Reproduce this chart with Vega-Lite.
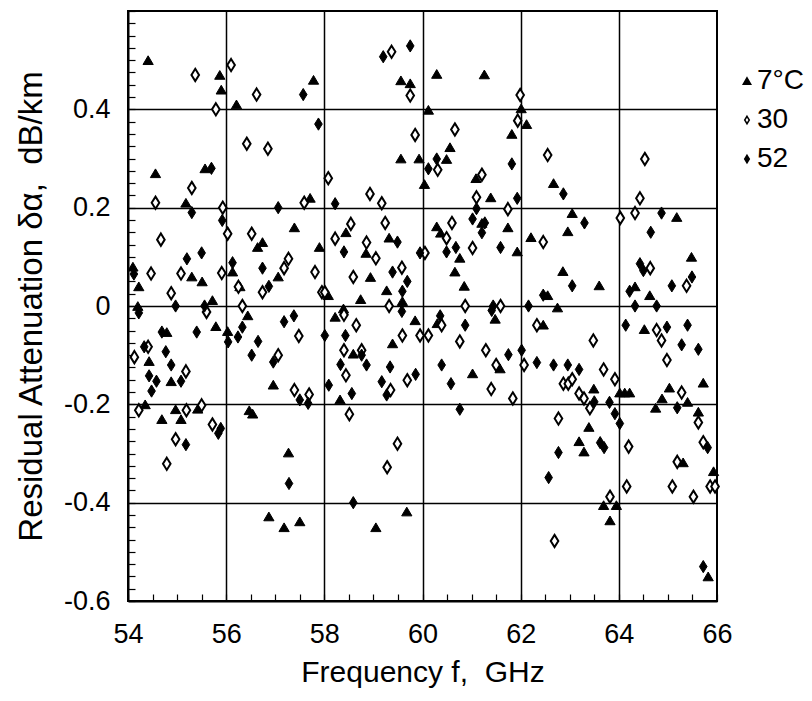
{
  "$schema": "https://vega.github.io/schema/vega-lite/v6.json",
  "autosize": "none",
  "width": 589,
  "height": 590,
  "padding": {"left": 128, "top": 11, "right": 95, "bottom": 100},
  "background": "white",
  "config": {"font": "Liberation Sans", "view": {"stroke": "black", "strokeWidth": 2}},
  "datasets": {
    "pts": [
      {"f":54.41,"a":0.50,"t":"7°C"},{"f":55.87,"a":0.47,"t":"7°C"},{"f":55.90,"a":0.44,"t":"7°C"},{"f":56.21,"a":0.41,"t":"7°C"},{"f":57.78,"a":0.46,"t":"7°C"},
      {"f":54.56,"a":0.27,"t":"7°C"},{"f":55.57,"a":0.28,"t":"7°C"},{"f":57.71,"a":0.22,"t":"7°C"},{"f":55.18,"a":0.21,"t":"7°C"},{"f":57.39,"a":0.16,"t":"7°C"},
      {"f":56.74,"a":0.13,"t":"7°C"},{"f":56.64,"a":0.12,"t":"7°C"},{"f":57.90,"a":0.12,"t":"7°C"},{"f":55.30,"a":0.06,"t":"7°C"},{"f":55.51,"a":0.05,"t":"7°C"},
      {"f":56.13,"a":0.07,"t":"7°C"},{"f":56.28,"a":0.04,"t":"7°C"},{"f":57.06,"a":0.06,"t":"7°C"},{"f":54.22,"a":0.04,"t":"7°C"},{"f":54.10,"a":0.08,"t":"7°C"},
      {"f":55.72,"a":0.012,"t":"7°C"},{"f":54.20,"a":0.0,"t":"7°C"},
      {"f":54.79,"a":-0.053,"t":"7°C"},{"f":54.43,"a":-0.112,"t":"7°C"},{"f":54.88,"a":-0.153,"t":"7°C"},{"f":54.35,"a":-0.20,"t":"7°C"},{"f":54.69,"a":-0.23,"t":"7°C"},
      {"f":54.97,"a":-0.21,"t":"7°C"},{"f":55.08,"a":-0.23,"t":"7°C"},{"f":55.42,"a":-0.209,"t":"7°C"},{"f":55.79,"a":-0.041,"t":"7°C"},{"f":56.03,"a":-0.051,"t":"7°C"},
      {"f":56.44,"a":-0.019,"t":"7°C"},{"f":56.47,"a":-0.212,"t":"7°C"},{"f":56.54,"a":-0.219,"t":"7°C"},{"f":56.96,"a":-0.16,"t":"7°C"},{"f":57.27,"a":-0.298,"t":"7°C"},
      {"f":56.87,"a":-0.428,"t":"7°C"},{"f":57.18,"a":-0.45,"t":"7°C"},{"f":57.50,"a":-0.438,"t":"7°C"},
      {"f":59.56,"a":0.459,"t":"7°C"},{"f":59.75,"a":0.453,"t":"7°C"},{"f":60.29,"a":0.472,"t":"7°C"},{"f":61.26,"a":0.471,"t":"7°C"},{"f":60.12,"a":0.399,"t":"7°C"},
      {"f":62.01,"a":0.402,"t":"7°C"},{"f":61.82,"a":0.35,"t":"7°C"},{"f":60.56,"a":0.323,"t":"7°C"},{"f":59.56,"a":0.30,"t":"7°C"},{"f":59.93,"a":0.30,"t":"7°C"},
      {"f":60.49,"a":0.299,"t":"7°C"},{"f":60.04,"a":0.248,"t":"7°C"},{"f":61.09,"a":0.26,"t":"7°C"},{"f":61.39,"a":0.221,"t":"7°C"},{"f":61.21,"a":0.169,"t":"7°C"},
      {"f":61.74,"a":0.16,"t":"7°C"},{"f":58.44,"a":0.15,"t":"7°C"},{"f":59.32,"a":0.139,"t":"7°C"},{"f":60.29,"a":0.162,"t":"7°C"},{"f":60.37,"a":0.149,"t":"7°C"},
      {"f":58.85,"a":0.108,"t":"7°C"},{"f":60.76,"a":0.098,"t":"7°C"},{"f":61.93,"a":0.111,"t":"7°C"},{"f":58.94,"a":0.059,"t":"7°C"},{"f":60.66,"a":0.07,"t":"7°C"},
      {"f":60.85,"a":0.041,"t":"7°C"},{"f":59.27,"a":0.032,"t":"7°C"},{"f":58.74,"a":0.014,"t":"7°C"},{"f":58.08,"a":0.022,"t":"7°C"},{"f":58.39,"a":-0.005,"t":"7°C"},
      {"f":59.59,"a":0.01,"t":"7°C"},
      {"f":58.22,"a":-0.022,"t":"7°C"},{"f":59.85,"a":-0.029,"t":"7°C"},{"f":59.39,"a":-0.076,"t":"7°C"},{"f":58.59,"a":-0.097,"t":"7°C"},{"f":61.02,"a":-0.137,"t":"7°C"},
      {"f":61.58,"a":-0.127,"t":"7°C"},{"f":61.48,"a":-0.026,"t":"7°C"},{"f":58.32,"a":-0.19,"t":"7°C"},{"f":59.68,"a":-0.418,"t":"7°C"},{"f":59.05,"a":-0.45,"t":"7°C"},
      {"f":60.30,"a":-0.035,"t":"7°C"},
      {"f":62.12,"a":0.37,"t":"7°C"},{"f":62.67,"a":0.25,"t":"7°C"},{"f":63.05,"a":0.189,"t":"7°C"},{"f":62.96,"a":0.152,"t":"7°C"},{"f":62.21,"a":0.14,"t":"7°C"},
      {"f":62.86,"a":0.071,"t":"7°C"},{"f":63.60,"a":0.042,"t":"7°C"},{"f":62.55,"a":0.022,"t":"7°C"},{"f":62.75,"a":-0.003,"t":"7°C"},{"f":65.18,"a":0.181,"t":"7°C"},
      {"f":65.48,"a":0.10,"t":"7°C"},{"f":64.33,"a":0.04,"t":"7°C"},{"f":64.63,"a":0.022,"t":"7°C"},
      {"f":62.46,"a":-0.038,"t":"7°C"},{"f":63.49,"a":-0.168,"t":"7°C"},{"f":64.02,"a":-0.176,"t":"7°C"},{"f":64.12,"a":-0.176,"t":"7°C"},{"f":64.22,"a":-0.176,"t":"7°C"},
      {"f":63.39,"a":-0.246,"t":"7°C"},{"f":63.19,"a":-0.275,"t":"7°C"},{"f":63.29,"a":-0.296,"t":"7°C"},{"f":63.69,"a":-0.405,"t":"7°C"},{"f":63.95,"a":-0.405,"t":"7°C"},
      {"f":63.82,"a":-0.436,"t":"7°C"},{"f":64.52,"a":-0.047,"t":"7°C"},{"f":65.03,"a":-0.166,"t":"7°C"},{"f":64.88,"a":-0.188,"t":"7°C"},{"f":64.75,"a":-0.207,"t":"7°C"},
      {"f":65.40,"a":-0.195,"t":"7°C"},{"f":65.62,"a":-0.215,"t":"7°C"},{"f":65.72,"a":-0.156,"t":"7°C"},{"f":65.31,"a":-0.318,"t":"7°C"},{"f":65.93,"a":-0.336,"t":"7°C"},
      {"f":65.82,"a":-0.55,"t":"7°C"},

      {"f":55.37,"a":0.47,"t":"30"},{"f":56.10,"a":0.49,"t":"30"},{"f":56.62,"a":0.43,"t":"30"},{"f":55.79,"a":0.40,"t":"30"},{"f":56.42,"a":0.33,"t":"30"},
      {"f":56.85,"a":0.32,"t":"30"},{"f":54.56,"a":0.21,"t":"30"},{"f":55.30,"a":0.24,"t":"30"},{"f":55.93,"a":0.20,"t":"30"},{"f":57.59,"a":0.21,"t":"30"},
      {"f":58.08,"a":0.26,"t":"30"},{"f":54.67,"a":0.135,"t":"30"},{"f":56.03,"a":0.147,"t":"30"},{"f":56.52,"a":0.147,"t":"30"},{"f":57.27,"a":0.096,"t":"30"},
      {"f":57.18,"a":0.077,"t":"30"},{"f":57.81,"a":0.069,"t":"30"},{"f":54.47,"a":0.066,"t":"30"},{"f":55.08,"a":0.066,"t":"30"},{"f":55.91,"a":0.067,"t":"30"},
      {"f":54.88,"a":0.026,"t":"30"},{"f":56.25,"a":0.039,"t":"30"},{"f":56.74,"a":0.028,"t":"30"},{"f":57.95,"a":0.028,"t":"30"},{"f":58.01,"a":0.028,"t":"30"},
      {"f":56.33,"a":0.0,"t":"30"},
      {"f":55.60,"a":-0.012,"t":"30"},{"f":54.41,"a":-0.083,"t":"30"},{"f":54.13,"a":-0.104,"t":"30"},{"f":55.18,"a":-0.133,"t":"30"},{"f":54.22,"a":-0.212,"t":"30"},
      {"f":55.19,"a":-0.212,"t":"30"},{"f":55.50,"a":-0.202,"t":"30"},{"f":55.72,"a":-0.241,"t":"30"},{"f":54.97,"a":-0.271,"t":"30"},{"f":54.79,"a":-0.321,"t":"30"},
      {"f":57.06,"a":-0.10,"t":"30"},{"f":57.48,"a":-0.061,"t":"30"},{"f":57.39,"a":-0.171,"t":"30"},{"f":57.69,"a":-0.18,"t":"30"},
      {"f":59.37,"a":0.517,"t":"30"},{"f":59.75,"a":0.428,"t":"30"},{"f":61.99,"a":0.429,"t":"30"},{"f":61.94,"a":0.377,"t":"30"},{"f":59.85,"a":0.348,"t":"30"},
      {"f":60.66,"a":0.359,"t":"30"},{"f":60.31,"a":0.277,"t":"30"},{"f":61.21,"a":0.267,"t":"30"},{"f":58.93,"a":0.228,"t":"30"},{"f":59.17,"a":0.209,"t":"30"},
      {"f":61.10,"a":0.221,"t":"30"},{"f":58.54,"a":0.167,"t":"30"},{"f":59.24,"a":0.169,"t":"30"},{"f":60.60,"a":0.169,"t":"30"},{"f":61.74,"a":0.197,"t":"30"},
      {"f":58.22,"a":0.137,"t":"30"},{"f":58.86,"a":0.129,"t":"30"},{"f":59.05,"a":0.097,"t":"30"},{"f":60.49,"a":0.138,"t":"30"},{"f":61.02,"a":0.118,"t":"30"},
      {"f":60.05,"a":0.108,"t":"30"},{"f":59.58,"a":0.078,"t":"30"},{"f":58.59,"a":0.059,"t":"30"},{"f":59.32,"a":0.0,"t":"30"},{"f":60.87,"a":0.0,"t":"30"},
      {"f":61.59,"a":0.0,"t":"30"},
      {"f":58.40,"a":-0.018,"t":"30"},{"f":58.65,"a":-0.039,"t":"30"},{"f":58.40,"a":-0.09,"t":"30"},{"f":58.76,"a":-0.09,"t":"30"},{"f":58.44,"a":-0.141,"t":"30"},
      {"f":59.59,"a":-0.06,"t":"30"},{"f":59.95,"a":-0.06,"t":"30"},{"f":60.12,"a":-0.06,"t":"30"},{"f":60.39,"a":-0.039,"t":"30"},{"f":60.76,"a":-0.072,"t":"30"},
      {"f":61.29,"a":-0.09,"t":"30"},{"f":61.50,"a":-0.12,"t":"30"},{"f":59.69,"a":-0.151,"t":"30"},{"f":59.35,"a":-0.171,"t":"30"},{"f":61.40,"a":-0.169,"t":"30"},
      {"f":61.84,"a":-0.188,"t":"30"},{"f":62.07,"a":-0.12,"t":"30"},{"f":58.51,"a":-0.22,"t":"30"},{"f":59.49,"a":-0.28,"t":"30"},{"f":59.28,"a":-0.328,"t":"30"},
      {"f":62.55,"a":0.307,"t":"30"},{"f":64.53,"a":0.299,"t":"30"},{"f":64.43,"a":0.219,"t":"30"},{"f":64.33,"a":0.189,"t":"30"},{"f":64.03,"a":0.179,"t":"30"},
      {"f":62.46,"a":0.13,"t":"30"},{"f":64.64,"a":0.077,"t":"30"},{"f":65.38,"a":0.041,"t":"30"},
      {"f":62.33,"a":-0.039,"t":"30"},{"f":63.48,"a":-0.07,"t":"30"},{"f":62.87,"a":-0.158,"t":"30"},{"f":62.97,"a":-0.158,"t":"30"},{"f":63.05,"a":-0.149,"t":"30"},
      {"f":63.69,"a":-0.129,"t":"30"},{"f":63.92,"a":-0.149,"t":"30"},{"f":63.19,"a":-0.178,"t":"30"},{"f":63.29,"a":-0.188,"t":"30"},{"f":63.41,"a":-0.208,"t":"30"},
      {"f":62.77,"a":-0.229,"t":"30"},{"f":64.20,"a":-0.286,"t":"30"},{"f":63.82,"a":-0.388,"t":"30"},{"f":62.69,"a":-0.478,"t":"30"},{"f":64.77,"a":-0.049,"t":"30"},
      {"f":64.87,"a":-0.07,"t":"30"},{"f":64.98,"a":-0.11,"t":"30"},{"f":65.28,"a":-0.176,"t":"30"},{"f":65.62,"a":-0.237,"t":"30"},{"f":65.72,"a":-0.277,"t":"30"},
      {"f":65.19,"a":-0.317,"t":"30"},{"f":64.16,"a":-0.367,"t":"30"},{"f":65.09,"a":-0.367,"t":"30"},{"f":65.52,"a":-0.388,"t":"30"},{"f":65.86,"a":-0.367,"t":"30"},
      {"f":65.96,"a":-0.367,"t":"30"},

      {"f":57.57,"a":0.43,"t":"52"},{"f":57.88,"a":0.37,"t":"52"},{"f":55.70,"a":0.28,"t":"52"},{"f":55.30,"a":0.19,"t":"52"},{"f":57.06,"a":0.20,"t":"52"},
      {"f":55.92,"a":0.174,"t":"52"},{"f":55.50,"a":0.108,"t":"52"},{"f":55.20,"a":0.096,"t":"52"},{"f":56.13,"a":0.088,"t":"52"},{"f":56.74,"a":0.077,"t":"52"},
      {"f":56.87,"a":0.04,"t":"52"},{"f":54.12,"a":0.065,"t":"52"},{"f":54.97,"a":0.0,"t":"52"},{"f":55.56,"a":0.0,"t":"52"},
      {"f":54.22,"a":-0.014,"t":"52"},{"f":54.69,"a":-0.053,"t":"52"},{"f":55.40,"a":-0.053,"t":"52"},{"f":54.77,"a":-0.093,"t":"52"},{"f":54.88,"a":-0.12,"t":"52"},
      {"f":54.43,"a":-0.142,"t":"52"},{"f":54.58,"a":-0.153,"t":"52"},{"f":55.08,"a":-0.153,"t":"52"},{"f":54.48,"a":-0.173,"t":"52"},{"f":56.04,"a":-0.073,"t":"52"},
      {"f":56.24,"a":-0.063,"t":"52"},{"f":56.33,"a":-0.043,"t":"52"},{"f":56.52,"a":-0.10,"t":"52"},{"f":56.65,"a":-0.072,"t":"52"},{"f":56.96,"a":-0.114,"t":"52"},
      {"f":57.18,"a":-0.032,"t":"52"},{"f":57.38,"a":-0.02,"t":"52"},{"f":58.01,"a":-0.06,"t":"52"},{"f":58.09,"a":-0.161,"t":"52"},{"f":55.89,"a":-0.249,"t":"52"},
      {"f":55.84,"a":-0.259,"t":"52"},{"f":55.18,"a":-0.282,"t":"52"},{"f":57.28,"a":-0.361,"t":"52"},{"f":57.50,"a":-0.191,"t":"52"},{"f":57.67,"a":-0.198,"t":"52"},
      {"f":54.33,"a":-0.083,"t":"52"},
      {"f":59.20,"a":0.507,"t":"52"},{"f":59.75,"a":0.529,"t":"52"},{"f":60.29,"a":0.299,"t":"52"},{"f":60.12,"a":0.279,"t":"52"},{"f":61.82,"a":0.289,"t":"52"},
      {"f":61.93,"a":0.219,"t":"52"},{"f":58.22,"a":0.208,"t":"52"},{"f":61.10,"a":0.198,"t":"52"},{"f":61.02,"a":0.177,"t":"52"},{"f":61.27,"a":0.169,"t":"52"},
      {"f":61.21,"a":0.149,"t":"52"},{"f":61.59,"a":0.119,"t":"52"},{"f":58.40,"a":0.11,"t":"52"},{"f":59.49,"a":0.13,"t":"52"},{"f":59.95,"a":0.108,"t":"52"},
      {"f":60.49,"a":0.11,"t":"52"},{"f":60.68,"a":0.119,"t":"52"},{"f":59.39,"a":0.069,"t":"52"},{"f":59.69,"a":0.05,"t":"52"},{"f":59.59,"a":0.03,"t":"52"},
      {"f":61.44,"a":0.0,"t":"52"},
      {"f":59.58,"a":-0.011,"t":"52"},{"f":58.43,"a":-0.06,"t":"52"},{"f":58.76,"a":-0.10,"t":"52"},{"f":58.33,"a":-0.119,"t":"52"},{"f":58.86,"a":-0.12,"t":"52"},
      {"f":58.56,"a":-0.178,"t":"52"},{"f":59.34,"a":-0.124,"t":"52"},{"f":59.17,"a":-0.154,"t":"52"},{"f":59.27,"a":-0.181,"t":"52"},{"f":59.86,"a":-0.139,"t":"52"},
      {"f":60.87,"a":-0.039,"t":"52"},{"f":60.39,"a":-0.12,"t":"52"},{"f":60.58,"a":-0.158,"t":"52"},{"f":60.76,"a":-0.21,"t":"52"},{"f":61.41,"a":-0.009,"t":"52"},
      {"f":61.75,"a":-0.099,"t":"52"},{"f":62.02,"a":-0.09,"t":"52"},{"f":58.59,"a":-0.40,"t":"52"},{"f":60.36,"a":-0.02,"t":"52"},
      {"f":62.87,"a":0.228,"t":"52"},{"f":63.30,"a":0.169,"t":"52"},{"f":63.05,"a":0.041,"t":"52"},{"f":62.46,"a":0.022,"t":"52"},{"f":62.16,"a":0.0,"t":"52"},
      {"f":64.87,"a":0.189,"t":"52"},{"f":64.65,"a":0.15,"t":"52"},{"f":64.43,"a":0.086,"t":"52"},{"f":64.50,"a":0.072,"t":"52"},{"f":65.08,"a":0.041,"t":"52"},
      {"f":65.49,"a":0.059,"t":"52"},{"f":64.22,"a":0.03,"t":"52"},{"f":64.33,"a":0.0,"t":"52"},{"f":64.77,"a":0.0,"t":"52"},
      {"f":62.33,"a":-0.115,"t":"52"},{"f":62.67,"a":-0.12,"t":"52"},{"f":62.96,"a":-0.12,"t":"52"},{"f":63.19,"a":-0.129,"t":"52"},
      {"f":63.50,"a":-0.195,"t":"52"},{"f":63.81,"a":-0.196,"t":"52"},{"f":63.92,"a":-0.219,"t":"52"},{"f":64.02,"a":-0.239,"t":"52"},{"f":63.62,"a":-0.278,"t":"52"},
      {"f":63.70,"a":-0.288,"t":"52"},{"f":62.77,"a":-0.298,"t":"52"},{"f":62.57,"a":-0.349,"t":"52"},{"f":64.14,"a":-0.039,"t":"52"},{"f":64.98,"a":-0.043,"t":"52"},
      {"f":65.40,"a":-0.039,"t":"52"},{"f":65.28,"a":-0.079,"t":"52"},{"f":65.62,"a":-0.088,"t":"52"},{"f":65.19,"a":-0.207,"t":"52"},{"f":65.81,"a":-0.288,"t":"52"},
      {"f":65.72,"a":-0.53,"t":"52"}
    ]
  },
  "data": {"name": "pts"},
  "mark": {"type": "point", "filled": true, "stroke": "black", "opacity": 1},
  "encoding": {
    "x": {
      "field": "f", "type": "quantitative",
      "scale": {"domain": [54, 66], "nice": false, "zero": false},
      "axis": {
        "values": [54,54.5,55,55.5,56,56.5,57,57.5,58,58.5,59,59.5,60,60.5,61,61.5,62,62.5,63,63.5,64,64.5,65,65.5,66],
        "grid": true, "gridColor": "black", "gridWidth": 1.5,
        "gridOpacity": {"condition": {"test": "datum.value % 2 === 0 && datum.value > 54 && datum.value < 66", "value": 1}, "value": 0},
        "tickSize": -7, "tickColor": "black", "tickWidth": 1.2,
        "domainColor": "black", "domainWidth": 2,
        "labelExpr": "datum.value % 2 === 0 ? format(datum.value, 'd') : ''",
        "labelFontSize": 27, "labelColor": "black", "labelPadding": 27, "labelOverlap": false, "labelFlush": false,
        "title": "Frequency f,\u00a0\u00a0GHz", "titleFontSize": 30, "titleFontWeight": "normal", "titleColor": "black",
        "titleBaseline": "alphabetic", "titleY": 80
      }
    },
    "y": {
      "field": "a", "type": "quantitative",
      "scale": {"domain": [-0.6, 0.6], "nice": false, "zero": false},
      "axis": {
        "values": [-0.6,-0.575,-0.55,-0.525,-0.5,-0.475,-0.45,-0.425,-0.4,-0.375,-0.35,-0.325,-0.3,-0.275,-0.25,-0.225,-0.2,-0.175,-0.15,-0.125,-0.1,-0.075,-0.05,-0.025,0,0.025,0.05,0.075,0.1,0.125,0.15,0.175,0.2,0.225,0.25,0.275,0.3,0.325,0.35,0.375,0.4,0.425,0.45,0.475,0.5,0.525,0.55,0.575,0.6],
        "grid": true, "gridColor": "black", "gridWidth": 1.5,
        "gridOpacity": {"condition": {"test": "abs(datum.value*5 - round(datum.value*5)) < 1e-6 && abs(datum.value) < 0.59", "value": 1}, "value": 0},
        "tickSize": -7, "tickColor": "black", "tickWidth": 1.2,
        "domainColor": "black", "domainWidth": 2,
        "labelExpr": "abs(datum.value*5 - round(datum.value*5)) < 1e-6 && datum.value < 0.59 ? (abs(datum.value) < 1e-6 ? '0' : (datum.value < 0 ? '-' : '') + format(abs(datum.value), '.1f')) : ''",
        "labelFontSize": 27, "labelColor": "black", "labelPadding": 25, "labelOverlap": false, "labelFlush": false,
        "title": "Residual Attenuation δα,\u00a0\u00a0dB/km", "titleFontSize": 33, "titleFontWeight": "normal", "titleColor": "black",
        "titleBaseline": "alphabetic", "titleX": -87
      }
    },
    "shape": {
      "field": "t", "type": "nominal",
      "scale": {"domain": ["7°C", "30", "52"], "range": ["M0,-0.85L1,0.85L-1,0.85Z", "M0,-1L0.62,0L0,1L-0.62,0Z", "M0,-1L0.62,0L0,1L-0.62,0Z"]},
      "legend": {
        "orient": "none", "legendX": 605, "legendY": 56, "title": null, "padding": 0,
        "labelFont": "Liberation Sans", "labelFontSize": 28, "labelColor": "black", "labelOffset": -4,
        "symbolSize": 55, "rowPadding": 11,
        "encode": {"symbols": {"update": {"stroke": {"value": "black"}, "strokeWidth": {"value": 1.5}}}}
      }
    },
    "fill": {
      "field": "t", "type": "nominal",
      "scale": {"domain": ["7°C", "30", "52"], "range": ["black", "white", "black"]},
      "legend": {
        "orient": "none", "legendX": 605, "legendY": 56, "title": null, "padding": 0,
        "labelFont": "Liberation Sans", "labelFontSize": 28, "labelColor": "black", "labelOffset": -4,
        "symbolSize": 55, "rowPadding": 11,
        "encode": {"symbols": {"update": {"stroke": {"value": "black"}, "strokeWidth": {"value": 1.5}}}}
      }
    },
    "size": {"condition": {"test": "datum.t === '7°C'", "value": 105}, "value": 150},
    "strokeWidth": {"condition": {"test": "datum.t === '30'", "value": 2}, "value": 1}
  }
}
